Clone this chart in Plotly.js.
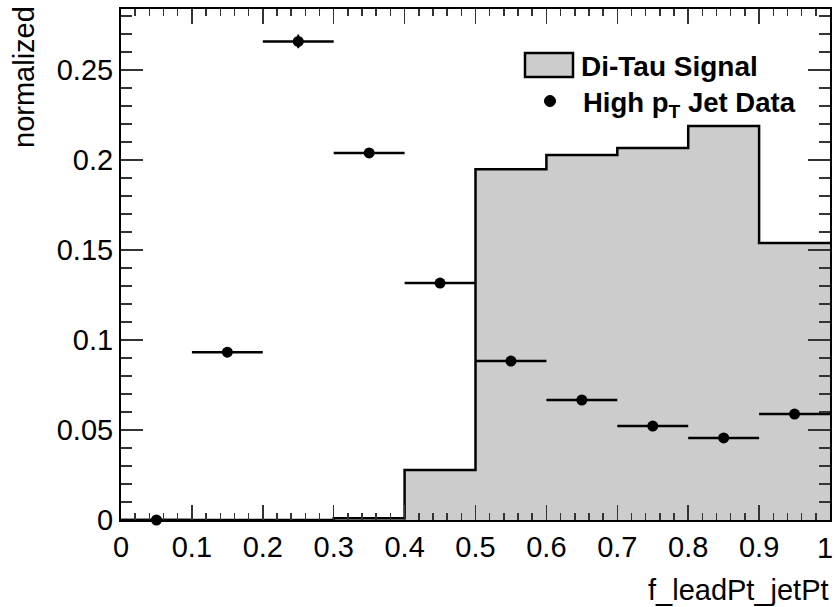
<!DOCTYPE html>
<html>
<head>
<meta charset="utf-8">
<script src="https://cdn.plot.ly/plotly-3.0.1.min.js"></script>
<style>html,body{margin:0;padding:0;background:#fff;}#chart{width:836px;height:607px;}</style>
</head>
<body>
<div id="chart"></div>
<script>
// Bin edges (10 bins from 0 to 1)
const binEdges = [0, 0.1, 0.2, 0.3, 0.4, 0.5, 0.6, 0.7, 0.8, 0.9, 1.0];
const binCenters = [0.05, 0.15, 0.25, 0.35, 0.45, 0.55, 0.65, 0.75, 0.85, 0.95];
const binHalfWidth = 0.05;
// last label ("1") is drawn right-aligned at the frame edge so it is not cut off
const xTickLabels = ['0', '0.1', '0.2', '0.3', '0.4', '0.5', '0.6', '0.7', '0.8', '0.9', ''];
const xLastTickLabel = '1';
const yTickVals = [0, 0.05, 0.1, 0.15, 0.2, 0.25];
const yTickLabels = ['0', '0.05', '0.1', '0.15', '0.2', '0.25'];

// Di-Tau Signal (normalized histogram)
const signalValues = [0, 0, 0, 0.001, 0.0278, 0.195, 0.2028, 0.2067, 0.219, 0.154];

// High pT Jet Data (normalized)
const dataValues = [0, 0.0933, 0.266, 0.204, 0.1317, 0.0883, 0.0667, 0.0522, 0.0456, 0.0589];
const dataErrors = [0, 0.0012, 0.0038, 0.0022, 0.0016, 0.0013, 0.0011, 0.001, 0.001, 0.0011];

// Step outline: value of each bin held until next edge
const stepY = signalValues.concat([signalValues[signalValues.length - 1]]);

const signal = {
  x: binEdges,
  y: stepY,
  type: 'scatter',
  mode: 'lines',
  line: {shape: 'hv', color: '#000000', width: 2.5},
  fill: 'tozeroy',
  fillcolor: '#cccccc',
  name: 'Di-Tau Signal',
  showlegend: false
};

const data = {
  x: binCenters,
  y: dataValues,
  type: 'scatter',
  mode: 'markers',
  marker: {color: '#000000', size: 11, symbol: 'circle'},
  error_x: {type: 'constant', value: binHalfWidth, color: '#000000', thickness: 2.5, width: 0},
  error_y: {type: 'data', array: dataErrors, visible: true, color: '#000000', thickness: 2, width: 0},
  name: 'High p<sub>T</sub> Jet Data',
  cliponaxis: false,
  showlegend: false
};

const fontFam = '"Liberation Sans", Arial, Helvetica, sans-serif';

// plot area in pixels: x 121..830, y 9..520
const PX = {l: 121, r: 830, t: 9, b: 520};
const px2x = p => (p - PX.l) / (PX.r - PX.l);
const px2y = p => (PX.b - p) / (PX.b - PX.t);

const layout = {
  width: 836,
  height: 607,
  margin: {l: 121, r: 6, t: 9, b: 87},
  paper_bgcolor: '#ffffff',
  plot_bgcolor: '#ffffff',
  font: {family: fontFam, size: 29, color: '#000000'},
  showlegend: false,
  xaxis: {
    range: [0, 1],
    tickvals: binEdges, ticktext: xTickLabels,
    ticks: 'inside', ticklen: 15, tickwidth: 1.5, tickcolor: '#333333',
    showline: true, linecolor: '#000000', linewidth: 2,
    mirror: 'allticks',
    showgrid: false, zeroline: false,
    tickfont: {family: fontFam, size: 29, color: '#000000'},
    minor: {dtick: 0.02, tick0: 0, ticks: 'inside', ticklen: 7, tickwidth: 1.5, tickcolor: '#333333', showgrid: false},
    fixedrange: true
  },
  yaxis: {
    range: [0, 0.284],
    tickvals: yTickVals, ticktext: yTickLabels,
    ticks: 'inside', ticklen: 22, tickwidth: 1.5, tickcolor: '#333333',
    ticklabeloverflow: 'allow',
    showline: true, linecolor: '#000000', linewidth: 2,
    mirror: 'allticks',
    showgrid: false, zeroline: false,
    tickfont: {family: fontFam, size: 29, color: '#000000'},
    minor: {dtick: 0.01, tick0: 0, ticks: 'inside', ticklen: 11, tickwidth: 1.5, tickcolor: '#333333', showgrid: false},
    fixedrange: true
  },
  shapes: [
    // legend box for Di-Tau Signal
    {type: 'rect', xref: 'paper', yref: 'paper',
     x0: px2x(525), x1: px2x(573), y0: px2y(77), y1: px2y(53),
     fillcolor: '#cccccc', line: {color: '#000000', width: 2.5}},
    // legend marker for data
    {type: 'circle', xref: 'paper', yref: 'paper',
     x0: px2x(544.5), x1: px2x(555.5), y0: px2y(106.5), y1: px2y(95.5),
     fillcolor: '#000000', line: {color: '#000000', width: 1}}
  ],
  annotations: [
    {
      text: xLastTickLabel, xref: 'paper', yref: 'paper',
      x: px2x(835), y: px2y(548), xanchor: 'right', yanchor: 'middle', showarrow: false,
      font: {family: fontFam, size: 29, color: '#000000'}
    },
    {
      text: '<b>Di-Tau Signal</b>', xref: 'paper', yref: 'paper',
      x: px2x(579), y: px2y(66), xanchor: 'left', yanchor: 'middle', showarrow: false,
      font: {family: fontFam, size: 28, color: '#000000'}
    },
    {
      text: '<b>High p<sub>T</sub> Jet Data</b>', xref: 'paper', yref: 'paper',
      x: px2x(581), y: px2y(104), xanchor: 'left', yanchor: 'middle', showarrow: false,
      font: {family: fontFam, size: 27.5, color: '#000000'}
    },
    {
      text: 'f_leadPt_jetPt', xref: 'paper', yref: 'paper',
      x: px2x(831), y: px2y(590), xanchor: 'right', yanchor: 'middle', showarrow: false,
      font: {family: fontFam, size: 29, color: '#000000'}
    },
    {
      text: 'normalized', xref: 'paper', yref: 'paper',
      x: px2x(24), y: px2y(4), xanchor: 'center', yanchor: 'top', showarrow: false,
      textangle: -90,
      font: {family: fontFam, size: 29, color: '#000000'}
    }
  ]
};

Plotly.newPlot('chart', [signal, data], layout, {displayModeBar: false, staticPlot: true});
</script>
</body>
</html>
